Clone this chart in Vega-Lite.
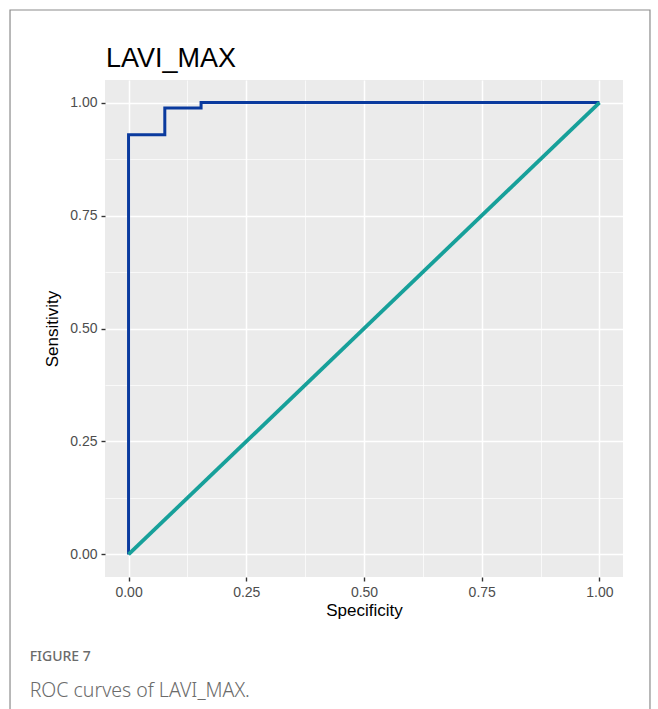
{
  "$schema": "https://vega.github.io/schema/vega-lite/v6.json",
  "width": 518,
  "height": 497,
  "autosize": {"type": "none"},
  "padding": {"left": 105, "top": 80, "right": 35, "bottom": 132},
  "background": "white",
  "title": {
    "text": "LAVI_MAX",
    "anchor": "start",
    "frame": "group",
    "font": "Liberation Sans",
    "fontSize": 27,
    "fontWeight": "normal",
    "color": "#000000",
    "baseline": "alphabetic",
    "offset": -85,
    "dx": 1
  },
  "config": {
    "view": {"fill": "#EBEBEB", "stroke": null},
    "axis": {
      "domain": false,
      "grid": true,
      "gridColor": "#FFFFFF",
      "gridWidth": 1.5,
      "tickColor": "#333333",
      "tickWidth": 1.4,
      "tickSize": 4,
      "labelFont": "Liberation Sans",
      "labelFontSize": 14,
      "labelColor": "#4D4D4D",
      "labelPadding": 4,
      "titleFont": "Liberation Sans",
      "titleFontSize": 17,
      "titleFontWeight": "normal",
      "titleColor": "#000000"
    }
  },
  "datasets": {
    "curves": [
      {"series": "ROC", "step": 0, "spec": 0, "sens": 0},
      {"series": "ROC", "step": 1, "spec": 0, "sens": 0.929},
      {"series": "ROC", "step": 2, "spec": 0.077, "sens": 0.929},
      {"series": "ROC", "step": 3, "spec": 0.077, "sens": 0.988},
      {"series": "ROC", "step": 4, "spec": 0.154, "sens": 0.988},
      {"series": "ROC", "step": 5, "spec": 0.154, "sens": 1},
      {"series": "ROC", "step": 6, "spec": 1, "sens": 1},
      {"series": "Reference", "step": 0, "spec": 0, "sens": 0},
      {"series": "Reference", "step": 1, "spec": 1, "sens": 1}
    ],
    "caption": [
      {"label": "FIGURE 7", "line": 1},
      {"label": "ROC curves of LAVI_MAX.", "line": 2}
    ]
  },
  "resolve": {"axis": {"x": "independent", "y": "independent"}},
  "layer": [
    {
      "data": {"name": "curves"},
      "transform": [{"filter": "datum.series === 'Reference'"}],
      "mark": {"type": "line", "opacity": 0, "clip": false},
      "encoding": {
        "x": {
          "field": "spec", "type": "quantitative",
          "scale": {"domain": [-0.05, 1.05], "nice": false, "zero": false},
          "axis": {"orient": "bottom", "values": [0.125, 0.375, 0.625, 0.875], "grid": true, "gridWidth": 0.7, "labels": false, "ticks": false, "title": null, "domain": false}
        },
        "y": {
          "field": "sens", "type": "quantitative",
          "scale": {"domain": [-0.05, 1.05], "nice": false, "zero": false},
          "axis": {"orient": "left", "values": [0.125, 0.375, 0.625, 0.875], "grid": true, "gridWidth": 0.7, "labels": false, "ticks": false, "title": null, "domain": false}
        }
      }
    },
    {
      "data": {"name": "curves"},
      "transform": [{"filter": "datum.series === 'ROC'"}],
      "mark": {"type": "line", "color": "#0A3A9E", "strokeWidth": 3, "clip": false},
      "encoding": {
        "x": {
          "field": "spec", "type": "quantitative",
          "axis": {"orient": "bottom", "grid": true, "title": "Specificity", "values": [0, 0.25, 0.5, 0.75, 1], "format": ".2f", "titlePadding": 3}
        },
        "y": {
          "field": "sens", "type": "quantitative",
          "axis": {"orient": "left", "grid": true, "title": "Sensitivity", "values": [0, 0.25, 0.5, 0.75, 1], "format": ".2f", "titlePadding": 8}
        },
        "order": {"field": "step", "type": "quantitative"}
      }
    },
    {
      "data": {"name": "curves"},
      "transform": [{"filter": "datum.series === 'Reference'"}],
      "mark": {"type": "line", "color": "#17A09A", "strokeWidth": 3.8, "clip": false},
      "encoding": {
        "x": {"field": "spec", "type": "quantitative", "axis": null},
        "y": {"field": "sens", "type": "quantitative", "axis": null},
        "order": {"field": "step", "type": "quantitative"}
      }
    },
    {
      "data": {"name": "caption"},
      "transform": [{"filter": "datum.line === 1"}],
      "mark": {"type": "text", "align": "left", "baseline": "alphabetic", "font": "Noto Sans", "fontSize": 14, "fontWeight": 500, "color": "#6B6B6B", "clip": false},
      "encoding": {
        "x": {"datum": -0.21, "type": "quantitative", "axis": null},
        "y": {"datum": -0.236, "type": "quantitative", "axis": null},
        "text": {"field": "label"}
      }
    },
    {
      "data": {"name": "caption"},
      "transform": [{"filter": "datum.line === 2"}],
      "mark": {"type": "text", "align": "left", "baseline": "alphabetic", "font": "Noto Sans", "fontSize": 19.5, "fontWeight": 300, "color": "#6B6B6B", "clip": false},
      "encoding": {
        "x": {"datum": -0.21, "type": "quantitative", "axis": null},
        "y": {"datum": -0.316, "type": "quantitative", "axis": null},
        "text": {"field": "label"}
      }
    },
    {
      "data": {"values": [{"frame": "border"}]},
      "mark": {"type": "rect", "fill": null, "stroke": "#8C8C8C", "strokeWidth": 1.2, "clip": false},
      "encoding": {
        "x": {"datum": -0.2517, "type": "quantitative", "axis": null},
        "x2": {"datum": 1.1073},
        "y": {"datum": 1.2049, "type": "quantitative", "axis": null},
        "y2": {"datum": -0.3665}
      }
    }
  ]
}
